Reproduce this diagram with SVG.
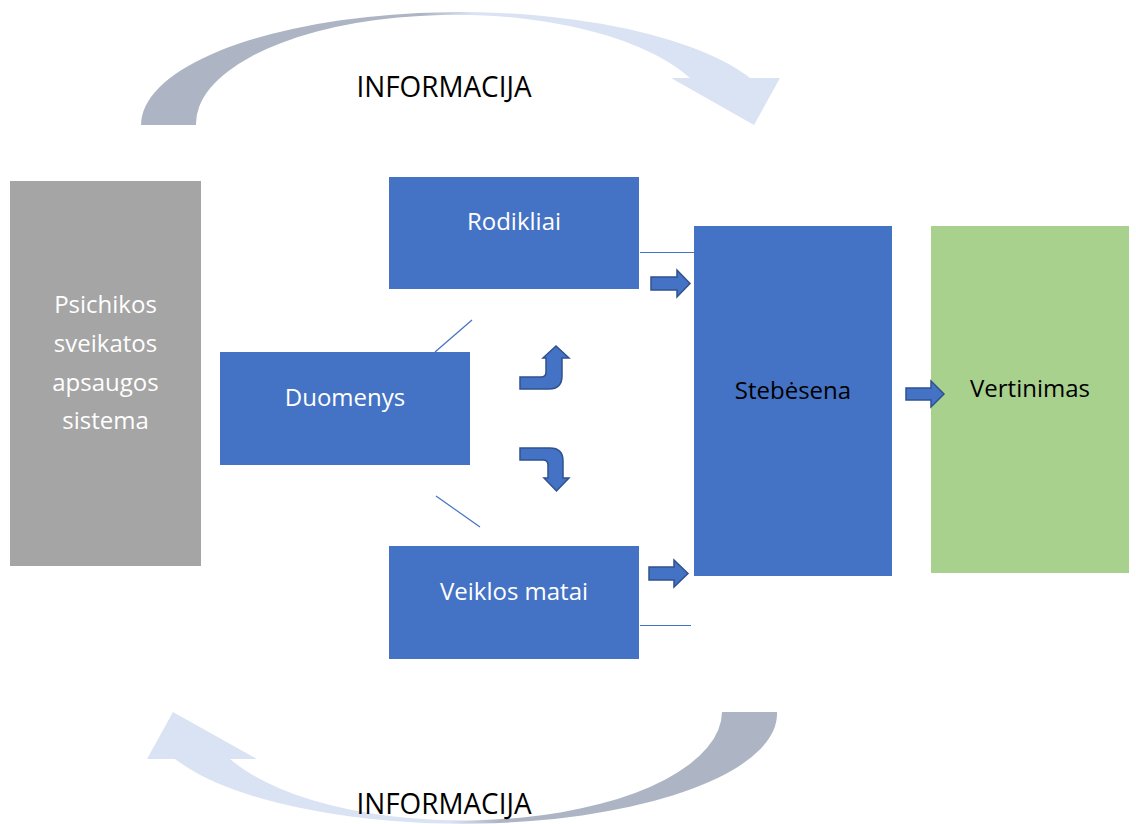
<svg xmlns="http://www.w3.org/2000/svg" width="1136" height="824" viewBox="0 0 1136 824">
<style>
.box{fill:#4472C4}
.lbl{font-family:"Open Sans","Noto Sans",sans-serif;font-size:24px;text-anchor:middle}
.w{fill:#FFFFFF}
.k{fill:#000000}
.info{font-family:"Open Sans","Noto Sans",sans-serif;font-size:29px;fill:#000000;text-anchor:middle}
.blk{fill:#4472C4;stroke:#2F528F;stroke-width:1.5;stroke-linejoin:miter}
.ln{stroke:#4472C4;stroke-width:1.2;fill:none}
</style>
<defs>
<linearGradient id="arcGradTop" gradientUnits="userSpaceOnUse" x1="141" y1="0" x2="780" y2="0">
<stop offset="0" stop-color="#ADB5C4"/>
<stop offset="0.44" stop-color="#ADB5C4"/>
<stop offset="0.52" stop-color="#DAE3F3"/>
<stop offset="1" stop-color="#DAE3F3"/>
</linearGradient>
<linearGradient id="arcGradBottom" gradientUnits="userSpaceOnUse" x1="147" y1="0" x2="777" y2="0">
<stop offset="0" stop-color="#DAE3F3"/>
<stop offset="0.48" stop-color="#DAE3F3"/>
<stop offset="0.56" stop-color="#ADB5C4"/>
<stop offset="1" stop-color="#ADB5C4"/>
</linearGradient>
</defs>
<g id="arc-top">
<path d="M141,125 A319,113 0 0 1 750,78 L780,78 L754,125 L671,78 L690,78 A259,109 0 0 0 196,125 Z" fill="url(#arcGradTop)"/>
</g>
<g id="arc-bottom">
<path d="M777,712 A315,110 0 0 1 175,759 L147,759 L173,712 L257,759 L230,759 A259,109 0 0 0 722,712 Z" fill="url(#arcGradBottom)"/>
</g>
<text class="info" x="444" y="97" textLength="175" lengthAdjust="spacingAndGlyphs">INFORMACIJA</text>
<text class="info" x="444" y="814" textLength="175" lengthAdjust="spacingAndGlyphs">INFORMACIJA</text>
<g id="node-psichikos">
<rect x="10" y="181" width="191" height="385" fill="#A5A5A5"/>
<text class="lbl w" x="105.5" y="313">Psichikos</text>
<text class="lbl w" x="105.5" y="352">sveikatos</text>
<text class="lbl w" x="105.5" y="391">apsaugos</text>
<text class="lbl w" x="105.5" y="429">sistema</text>
</g>
<g id="node-rodikliai">
<rect class="box" x="389" y="177" width="250" height="112"/>
<text class="lbl w" x="514" y="230">Rodikliai</text>
</g>
<g id="node-duomenys">
<rect class="box" x="220" y="352" width="250" height="113"/>
<text class="lbl w" x="345" y="406">Duomenys</text>
</g>
<g id="node-veiklos">
<rect class="box" x="389" y="546" width="250" height="113"/>
<text class="lbl w" x="514" y="600">Veiklos matai</text>
</g>
<g id="node-stebesena">
<rect class="box" x="694" y="226" width="198" height="350"/>
<text class="lbl k" x="793" y="399">Stebėsena</text>
</g>
<g id="node-vertinimas">
<rect x="931" y="226" width="198" height="347" fill="#A9D18E"/>
<text class="lbl k" x="1030" y="397">Vertinimas</text>
</g>
<g id="connectors">
<line class="ln" x1="640" y1="252.5" x2="694" y2="252.5"/>
<line class="ln" x1="640" y1="625.5" x2="691" y2="625.5"/>
<line class="ln" x1="435" y1="352" x2="472" y2="320"/>
<line class="ln" x1="436" y1="496" x2="480" y2="527"/>
<path class="blk" d="M651,277 L677,277 L677,270 L690,283.5 L677,297 L677,290 L651,290 Z"/>
<path class="blk" d="M649,567 L674,567 L674,560 L688,573.5 L674,587 L674,580 L649,580 Z"/>
<path class="blk" d="M906,388 L931,388 L931,381 L944,394 L931,407 L931,400 L906,400 Z"/>
<path class="blk" d="M520,377 L541,377 Q546,377 546,372 L546,358 L543,358 L556,346 L569,358 L562,358 L562,376 Q562,389 549,389 L520,389 Z"/>
<path class="blk" d="M520,448 L550,448 Q563,448 563,461 L563,478 L569,478 L556.5,491 L544,478 L548,478 L548,465 Q548,460 543,460 L520,460 Z"/>
</g>
</svg>
